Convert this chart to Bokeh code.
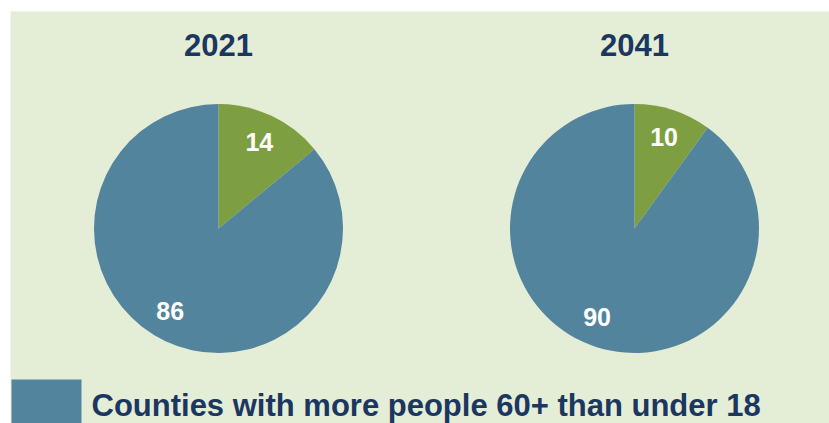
import math
from bokeh.plotting import figure
from bokeh.models import Range1d
from bokeh.core.properties import value
from bokeh.embed import file_html
from bokeh.resources import INLINE

# ---- data ----
years = ["2021", "2041"]
older_more = [86, 90]      # counties with more people 60+ than under 18 (blue)
younger_more = [14, 10]    # remaining counties (green)
legend_text = "Counties with more people 60+ than under 18"

# ---- styling ----
BG = "#e4edd6"
BLUE = "#53849e"
GREEN = "#7e9f41"
NAVY = "#1b375f"
FONT = value("Liberation Sans")

p = figure(width=829, height=423, output_backend="svg", toolbar_location=None,
           x_range=Range1d(10, 829), y_range=Range1d(0, 412),
           min_border_left=10, min_border_top=11, min_border_right=0, min_border_bottom=0)
p.axis.visible = False
p.grid.visible = False
p.outline_line_color = None
p.background_fill_color = BG
p.border_fill_color = "white"

centers_x = [218, 634]
center_y = 195
radius = 124.5

for i, yr in enumerate(years):
    cx = centers_x[i]
    total = older_more[i] + younger_more[i]
    g_ang = 2 * math.pi * younger_more[i] / total
    top = math.pi / 2
    # green slice: clockwise from top
    p.wedge(x=[cx], y=[center_y], radius=radius, start_angle=top, end_angle=top - g_ang,
            direction="clock", fill_color=GREEN, line_color=None)
    # blue slice: remainder
    p.wedge(x=[cx], y=[center_y], radius=radius, start_angle=top - g_ang, end_angle=top - 2 * math.pi,
            direction="clock", fill_color=BLUE, line_color=None)
    # labels near mid angles
    gm = top - g_ang / 2
    bm = top - g_ang - (2 * math.pi - g_ang) / 2 - math.radians(5)
    lr = 0.77 * radius
    p.text(x=[cx + lr * math.cos(gm)], y=[center_y + lr * math.sin(gm)], text=[str(younger_more[i])],
           text_font=FONT, text_font_style="bold", text_font_size="25px", text_color="white",
           text_align="center", text_baseline="middle")
    p.text(x=[cx + lr * math.cos(bm)], y=[center_y + lr * math.sin(bm)], text=[str(older_more[i])],
           text_font=FONT, text_font_style="bold", text_font_size="25px", text_color="white",
           text_align="center", text_baseline="middle")
    # year title
    p.text(x=[cx], y=[379], text=[yr], text_font=FONT, text_font_style="bold",
           text_font_size="31px", text_color=NAVY, text_align="center", text_baseline="middle")

# legend
p.rect(x=[46], y=[10], width=70, height=68, fill_color=BLUE, line_color=None)
p.text(x=[91], y=[18], text=[legend_text], text_font=FONT, text_font_style="bold",
       text_font_size="31px", text_color=NAVY, text_align="left", text_baseline="middle")

open("out.html", "w").write(file_html(p, INLINE))
